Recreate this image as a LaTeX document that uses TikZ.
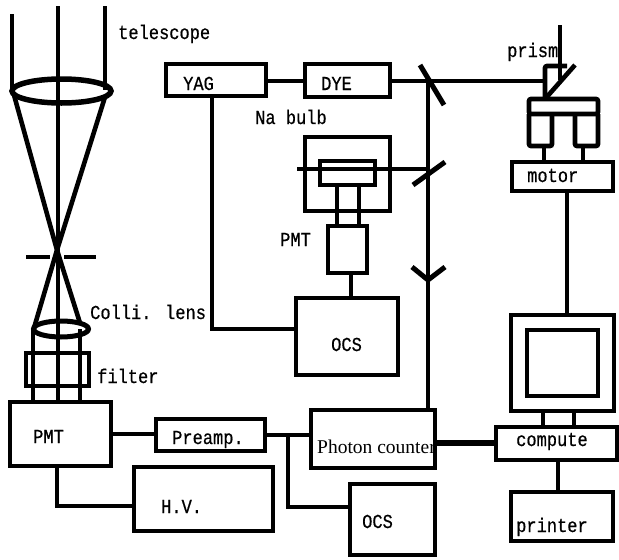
\documentclass[tikz,border=0pt]{standalone}
\usepackage{fontspec}
\newfontfamily\lab[FakeStretch=0.86,FakeBold=0.6]{Liberation Mono}
\newfontfamily\serifl{Liberation Serif}
\tikzset{
 ln/.style={line width=4.6pt,line cap=butt,line join=miter},
 box/.style={draw,line width=4.6pt,inner sep=0pt,fill=none},
 txt/.style={inner sep=0pt,font=\lab\fontsize{19.8}{20}\selectfont,anchor=base west},
}
\begin{document}
\begin{tikzpicture}[x=1pt,y=-1pt]
\useasboundingbox (0,0) rectangle (619,560);
\node[inner sep=0pt,anchor=base west,font=\serifl\fontsize{19.5}{20}\selectfont] (t17) at (317,453) {Photon counter};
% telescope
\draw[ln] (12,14) -- (12,90);
\draw[ln] (58,6) -- (58,328);
\draw[ln] (105,6) -- (105,90);
\draw[line width=5.5pt] (61.5,91) ellipse [x radius=49.5,y radius=12];
\draw[ln] (14,95) -- (57,250) -- (80,323);
\draw[ln] (105,97) -- (57,250) -- (34,328);
\draw[ln] (26,257) -- (50,257) (64,257) -- (96,257);
\draw[line width=5pt] (61,329) ellipse [x radius=27.5,y radius=8];
\draw[ln] (33,329) -- (33,400) (58,328) -- (58,400) (80,329) -- (80,400);
\draw[line width=4pt] (26,353) rectangle (89,386);
% boxes
\node[box,minimum width=101pt,minimum height=64pt] (pmta) at (60.5,434) {};
\node[box,minimum width=109pt,minimum height=32pt] (pre) at (210.5,435) {};
\node[box,minimum width=139pt,minimum height=64pt] (hv) at (203.5,499) {};
\node[box,minimum width=124pt,minimum height=58pt] (pc) at (373,439) {};
\node[box,minimum width=85pt,minimum height=71pt] (ocsb) at (392.5,519.5) {};
\node[box,minimum width=100pt,minimum height=32pt] (yag) at (216,80) {};
\node[box,minimum width=85pt,minimum height=33pt] (dye) at (347.5,80.5) {};
\node[draw,line width=4pt,minimum width=85.5pt,minimum height=74pt,inner sep=0pt] (bulb) at (347.5,174) {};
\node[box,minimum width=55pt,minimum height=24pt] (cell) at (347.5,173) {};
\node[box,minimum width=39pt,minimum height=47pt] (pmtb) at (347.5,249.5) {};
\node[box,minimum width=102pt,minimum height=77pt] (ocsa) at (347,336.5) {};
\node[box,minimum width=101pt,minimum height=29pt] (motor) at (562.5,176.5) {};
\node[box,minimum width=103pt,minimum height=96pt] (mon) at (562.5,363) {};
\node[box,minimum width=71pt,minimum height=66pt] (scr) at (562.5,363) {};
\node[box,minimum width=121pt,minimum height=33pt] (comp) at (556.5,443.5) {};
\node[box,minimum width=102pt,minimum height=49pt] (prn) at (562,516.5) {};
% connectors
\coordinate (j) at (288,435);
\draw[ln] (pmta.east |- 0,434) -- (pre.west |- 0,434);
\draw[ln] (pre.east |- 0,435) -- (pc.west |- 0,435);
\draw[ln] (57,466) |- (hv.west |- 0,506);
\draw[ln] (j) |- (ocsb.west |- 0,507);
\draw[ln,line width=5.5pt] (pc.east |- 0,443) -- (comp.west |- 0,443);
\draw[ln] (yag.east |- 0,81) -- (dye.west |- 0,81);
\draw[ln] (dye.east |- 0,81) -- (545,81);
\draw[ln] (212,98) |- (ocsa.west |- 0,329);
\draw[ln] (351,273) -- (351,298);
\draw[ln] (337,185) -- (337,226) (359,185) -- (359,226);
\draw[ln] (297,169) -- (428,169);
\draw[ln] (428,81) -- (428,410);
\draw[ln,line width=5pt] (420,65) -- (444,105);
\draw[ln,line width=5pt] (413,185) -- (445,162);
\draw[ln,line width=5pt] (412,267) -- (428,280) -- (445,267);
% prism
\draw[ln] (560,25) -- (560,80);
\draw[line width=4.6pt,rounded corners=2pt] (545,97) -- (545,66) -- (567,66);
\draw[ln] (545,99) -- (575,65);
\draw[box,rounded corners=2pt] (529,99) rectangle (598,114);
\draw[box,rounded corners=2pt] (529,114) -- (529,146) -- (552,146) -- (552,114);
\draw[box,rounded corners=2pt] (575,114) -- (575,146) -- (598,146) -- (598,114);
\draw[ln] (544,146) -- (544,162) (583,146) -- (583,162);
\draw[ln] (567,191) -- (567,315);
\draw[ln] (543,411) -- (543,427) (574,411) -- (574,427);
\draw[ln] (558,460) -- (558,492);
% labels
\node[txt] (t1) at (118,39) {telescope};
\node[txt] (t2) at (183,90) {YAG};
\node[txt] (t3) at (321,90) {DYE};
\node[txt] (t4) at (255,124) {Na bulb};
\node[txt] (t5) at (280,246) {PMT};
\node[txt] (t6) at (331,351) {OCS};
\node[txt] (t7) at (507,57) {prism};
\node[txt] (t8) at (527,182) {motor};
\node[txt] (t9) at (90,319) {Colli. lens};
\node[txt] (t10) at (97,383) {filter};
\node[txt] (t11) at (33,443) {PMT};
\node[txt] (t12) at (172,444) {Preamp.};
\node[txt] (t13) at (161,513) {H.V.};
\node[txt] (t14) at (362,528) {OCS};
\node[txt] (t15) at (516,446) {compute};
\node[txt] (t16) at (516,532) {printer};
\end{tikzpicture}
\end{document}
